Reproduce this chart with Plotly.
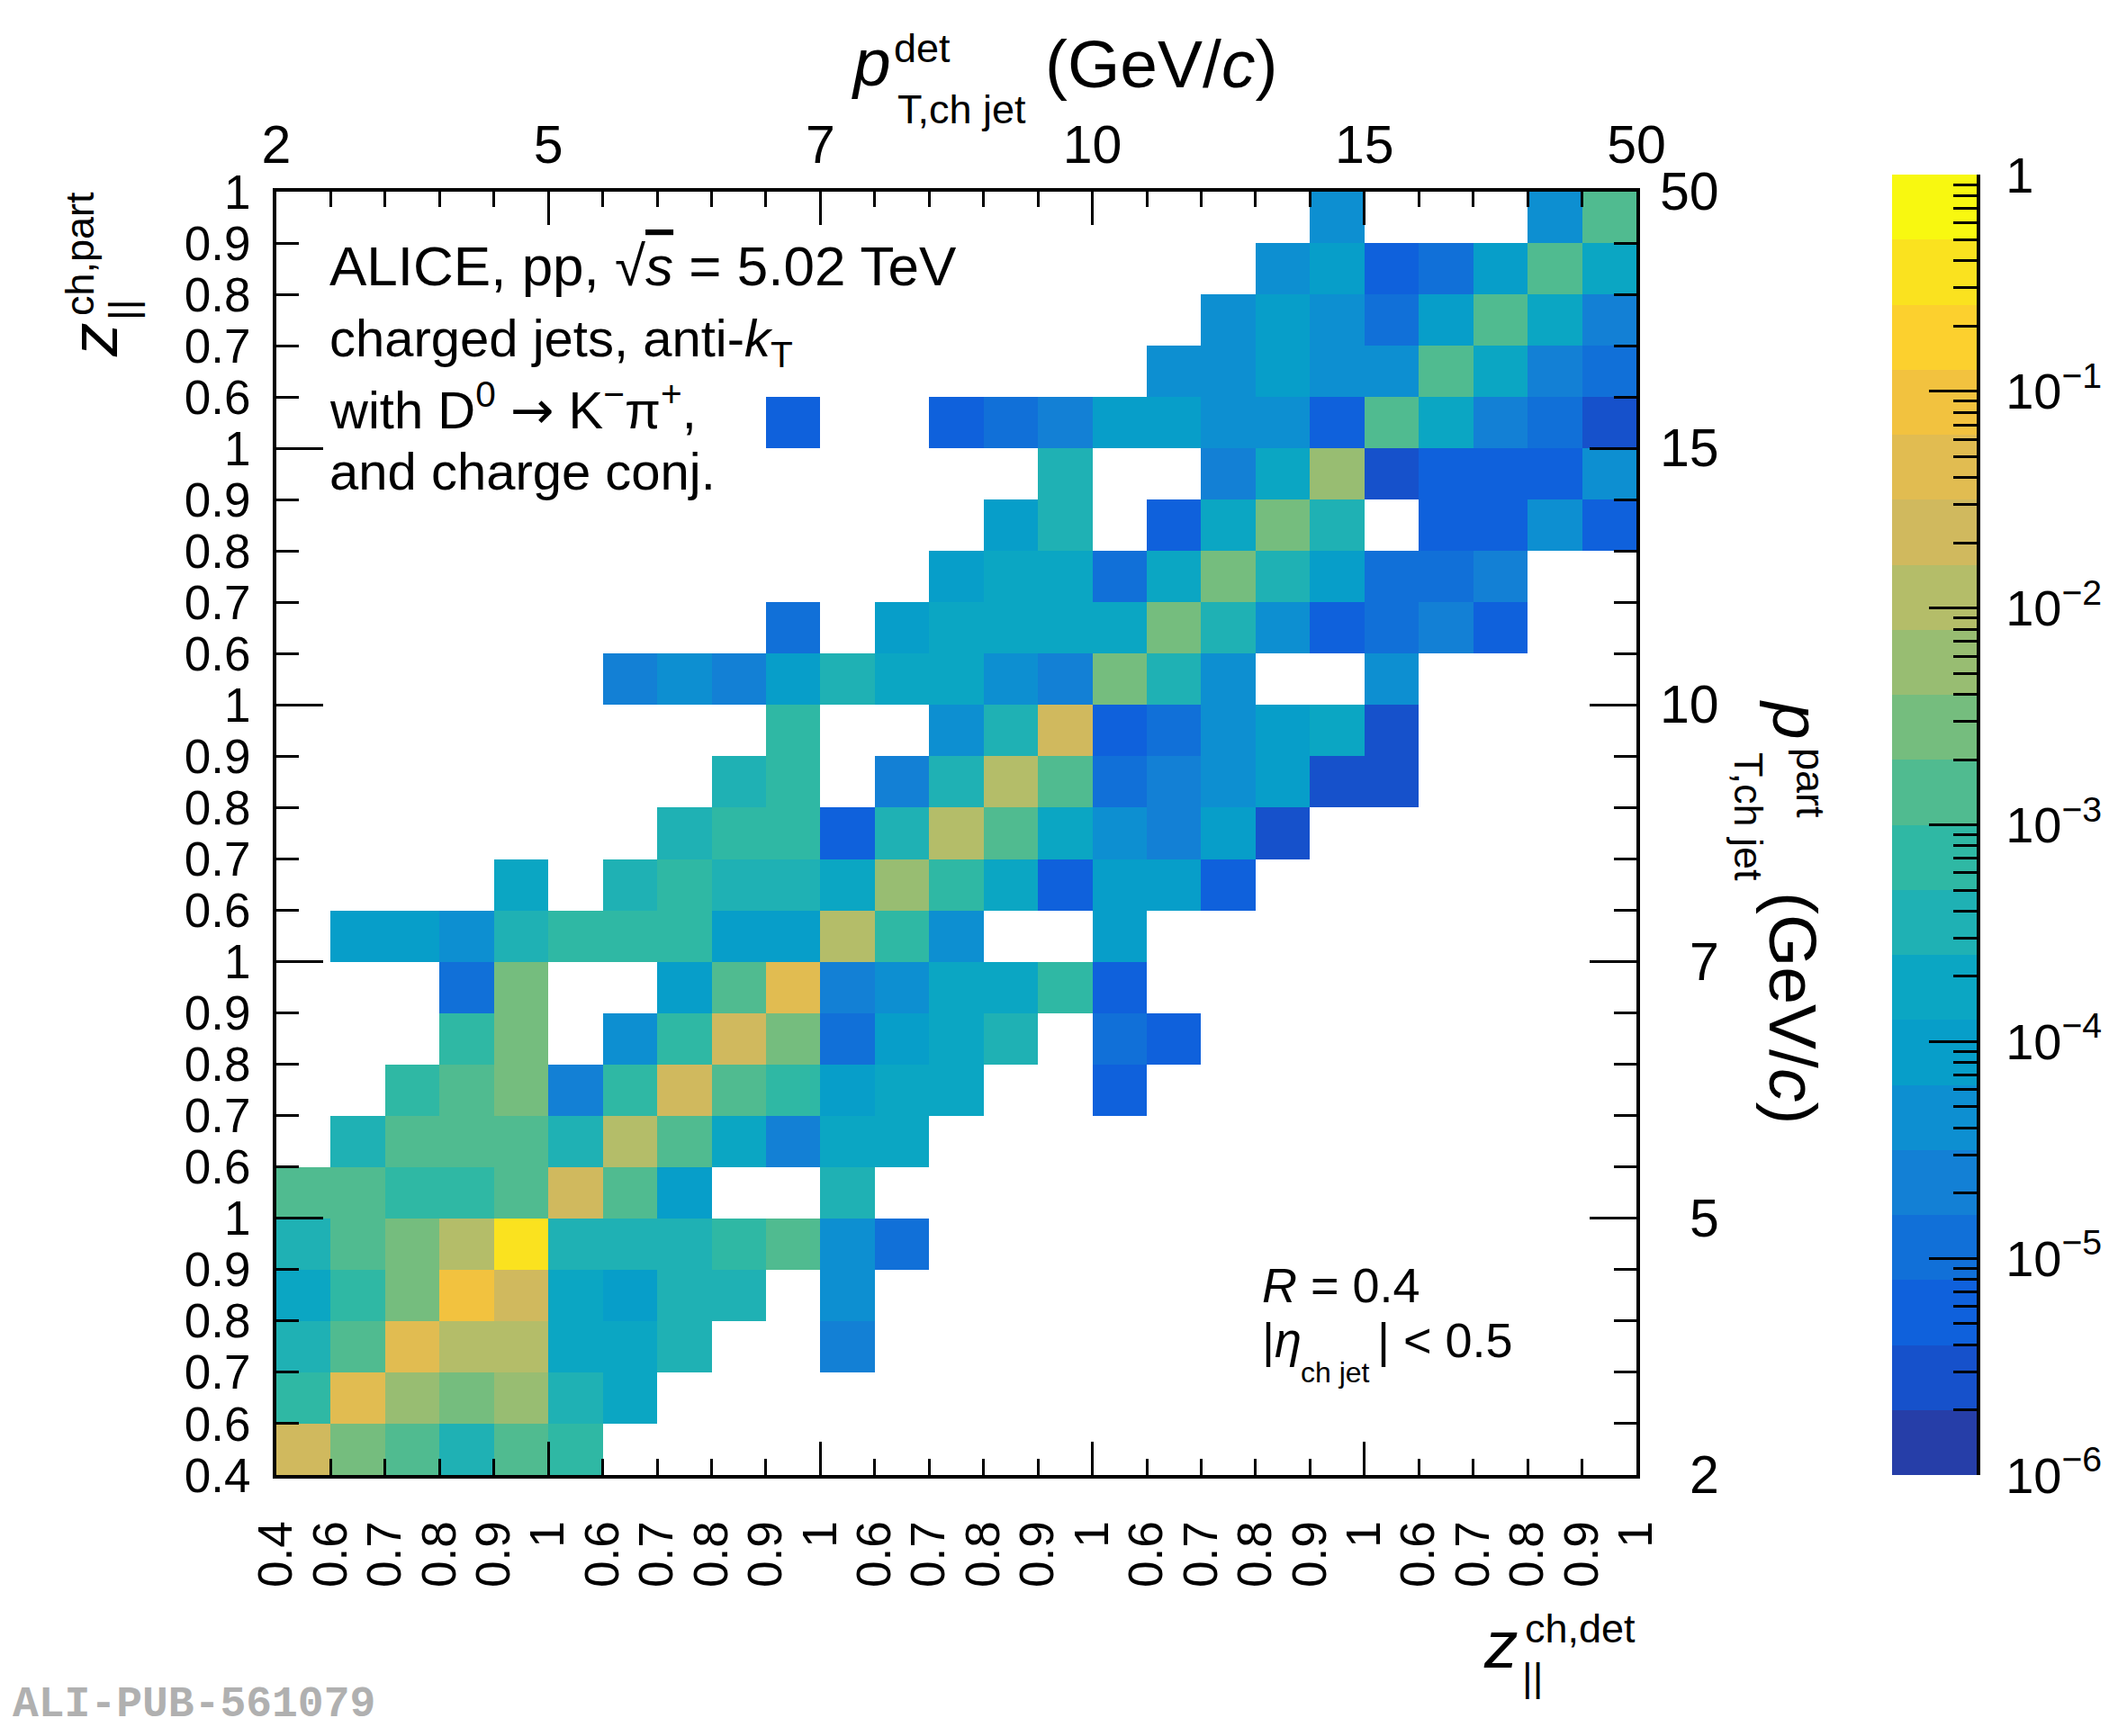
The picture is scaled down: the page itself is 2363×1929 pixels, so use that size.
import numpy as np
import plotly.graph_objects as go

# the plotly div sits inside the default 8px body margin of the page
OFF = 8
W, H = 2363 - 2 * OFF, 1929 - 2 * OFF
FONT = "Liberation Sans"


def px(x):
    # page pixel -> paper x
    return (x - OFF) / W


def py(y):
    # page pixel -> paper y
    return 1 - (y - OFF) / H


# bin labels
pt_labels = ["2", "5", "7", "10", "15", "50"]
z_labels = ["0.4", "0.6", "0.7", "0.8", "0.9", "1"]

# ROOT kBird palette, 20 contour levels from 1e-6 to 1
bird = ["#263ea8", "#1651cb", "#0f61dc", "#1170d8", "#1380d5",
        "#0d8fd1", "#079ec9", "#0ba6c3", "#1fb1b4", "#2fb8a4",
        "#50bb90", "#75bd7e", "#98bd72", "#b4bd69", "#d0b95e",
        "#e1bc51", "#f2c23f", "#fcd02e", "#fae21f", "#f8f810"]

# response matrix, rows from top (part pT 15-50, z 0.9-1) to bottom (part pT 2-5, z 0.4-0.6)
# columns: det pT bin x det z bin, left to right
_ = None
response = [
    [_, _, _, _, _, _, _, _, _, _, _, _, _, _, _, _, _, _, _, 4.5e-5, _, _, _, 4.5e-5, 1.4e-3],
    [_, _, _, _, _, _, _, _, _, _, _, _, _, _, _, _, _, _, 4.5e-5, 8.9e-5, 5.6e-6, 1.1e-5, 8.9e-5, 1.4e-3, 1.8e-4],
    [_, _, _, _, _, _, _, _, _, _, _, _, _, _, _, _, _, 4.5e-5, 8.9e-5, 4.5e-5, 1.1e-5, 8.9e-5, 1.4e-3, 1.8e-4, 2.2e-5],
    [_, _, _, _, _, _, _, _, _, _, _, _, _, _, _, _, 4.5e-5, 4.5e-5, 8.9e-5, 4.5e-5, 4.5e-5, 1.4e-3, 1.8e-4, 2.2e-5, 1.1e-5],
    [_, _, _, _, _, _, _, _, _, 5.6e-6, _, _, 5.6e-6, 1.1e-5, 2.2e-5, 8.9e-5, 8.9e-5, 4.5e-5, 4.5e-5, 5.6e-6, 1.4e-3, 1.8e-4, 2.2e-5, 1.1e-5, 2.8e-6],
    [_, _, _, _, _, _, _, _, _, _, _, _, _, _, 3.5e-4, _, _, 2.2e-5, 1.8e-4, 5.6e-3, 2.8e-6, 5.6e-6, 5.6e-6, 5.6e-6, 4.5e-5],
    [_, _, _, _, _, _, _, _, _, _, _, _, _, 8.9e-5, 3.5e-4, _, 5.6e-6, 1.8e-4, 2.8e-3, 3.5e-4, _, 5.6e-6, 5.6e-6, 4.5e-5, 5.6e-6],
    [_, _, _, _, _, _, _, _, _, _, _, _, 8.9e-5, 1.8e-4, 1.8e-4, 1.1e-5, 1.8e-4, 2.8e-3, 3.5e-4, 8.9e-5, 1.1e-5, 1.1e-5, 2.2e-5, _, _],
    [_, _, _, _, _, _, _, _, _, 1.1e-5, _, 8.9e-5, 1.8e-4, 1.8e-4, 1.8e-4, 1.8e-4, 2.8e-3, 3.5e-4, 4.5e-5, 5.6e-6, 1.1e-5, 2.2e-5, 5.6e-6, _, _],
    [_, _, _, _, _, _, 2.2e-5, 4.5e-5, 2.2e-5, 8.9e-5, 3.5e-4, 1.8e-4, 1.8e-4, 4.5e-5, 2.2e-5, 2.8e-3, 3.5e-4, 4.5e-5, _, _, 4.5e-5, _, _, _, _],
    [_, _, _, _, _, _, _, _, _, 7.1e-4, _, _, 4.5e-5, 3.5e-4, 2.2e-2, 5.6e-6, 1.1e-5, 4.5e-5, 8.9e-5, 1.8e-4, 2.8e-6, _, _, _, _],
    [_, _, _, _, _, _, _, _, 3.5e-4, 7.1e-4, _, 2.2e-5, 3.5e-4, 1.1e-2, 1.4e-3, 1.1e-5, 2.2e-5, 4.5e-5, 8.9e-5, 2.8e-6, 2.8e-6, _, _, _, _],
    [_, _, _, _, _, _, _, 3.5e-4, 7.1e-4, 7.1e-4, 5.6e-6, 3.5e-4, 1.1e-2, 1.4e-3, 1.8e-4, 4.5e-5, 2.2e-5, 8.9e-5, 2.8e-6, _, _, _, _, _, _],
    [_, _, _, _, 1.8e-4, _, 3.5e-4, 7.1e-4, 3.5e-4, 3.5e-4, 1.8e-4, 5.6e-3, 7.1e-4, 1.8e-4, 5.6e-6, 8.9e-5, 8.9e-5, 5.6e-6, _, _, _, _, _, _, _],
    [_, 8.9e-5, 8.9e-5, 4.5e-5, 3.5e-4, 7.1e-4, 7.1e-4, 7.1e-4, 8.9e-5, 8.9e-5, 1.1e-2, 7.1e-4, 4.5e-5, _, _, 8.9e-5, _, _, _, _, _, _, _, _, _],
    [_, _, _, 1.1e-5, 2.8e-3, _, _, 8.9e-5, 1.4e-3, 4.5e-2, 2.2e-5, 4.5e-5, 1.8e-4, 1.8e-4, 7.1e-4, 5.6e-6, _, _, _, _, _, _, _, _, _],
    [_, _, _, 7.1e-4, 2.8e-3, _, 4.5e-5, 7.1e-4, 2.2e-2, 2.8e-3, 1.1e-5, 8.9e-5, 1.8e-4, 3.5e-4, _, 1.1e-5, 5.6e-6, _, _, _, _, _, _, _, _],
    [_, _, 7.1e-4, 1.4e-3, 2.8e-3, 2.2e-5, 7.1e-4, 2.2e-2, 1.4e-3, 7.1e-4, 8.9e-5, 1.8e-4, 1.8e-4, _, _, 5.6e-6, _, _, _, _, _, _, _, _, _],
    [_, 3.5e-4, 1.4e-3, 1.4e-3, 1.4e-3, 3.5e-4, 1.1e-2, 1.4e-3, 1.8e-4, 2.2e-5, 1.8e-4, 1.8e-4, _, _, _, _, _, _, _, _, _, _, _, _, _],
    [1.4e-3, 1.4e-3, 7.1e-4, 7.1e-4, 1.4e-3, 2.2e-2, 1.4e-3, 8.9e-5, _, _, 3.5e-4, _, _, _, _, _, _, _, _, _, _, _, _, _, _],
    [3.5e-4, 1.4e-3, 2.8e-3, 1.1e-2, 0.35, 3.5e-4, 3.5e-4, 3.5e-4, 7.1e-4, 1.4e-3, 4.5e-5, 1.1e-5, _, _, _, _, _, _, _, _, _, _, _, _, _],
    [1.8e-4, 7.1e-4, 2.8e-3, 8.9e-2, 2.2e-2, 1.8e-4, 8.9e-5, 3.5e-4, 3.5e-4, _, 4.5e-5, _, _, _, _, _, _, _, _, _, _, _, _, _, _],
    [3.5e-4, 1.4e-3, 4.5e-2, 1.1e-2, 1.1e-2, 1.8e-4, 1.8e-4, 3.5e-4, _, _, 2.2e-5, _, _, _, _, _, _, _, _, _, _, _, _, _, _],
    [7.1e-4, 4.5e-2, 5.6e-3, 2.8e-3, 5.6e-3, 3.5e-4, 1.8e-4, _, _, _, _, _, _, _, _, _, _, _, _, _, _, _, _, _, _],
    [2.2e-2, 2.8e-3, 1.4e-3, 3.5e-4, 1.4e-3, 7.1e-4, _, _, _, _, _, _, _, _, _, _, _, _, _, _, _, _, _, _, _],
]

nb = len(response)
zmat = np.array([[np.nan if v is None else np.log10(v) for v in row] for row in response[::-1]])
cells = list(range(nb))

edges = [k - 0.5 for k in range(nb + 1)]
edge_text = [z_labels[0]] + z_labels[1:] * 5
pt_edges = edges[::5]
pt_inner = pt_edges[1:-1]

scale = []
for i, c in enumerate(bird):
    scale += [[i / len(bird), c], [(i + 1) / len(bird), c]]

fig = go.Figure()
fig.add_trace(go.Heatmap(x=cells, y=cells, z=zmat, colorscale=scale, zmin=-6, zmax=0,
                         showscale=False, hoverongaps=False))
# dummy traces so the overlay axes are drawn
fig.add_trace(go.Scatter(x=[None], y=[None], xaxis="x2", yaxis="y2", showlegend=False))
fig.add_trace(go.Scatter(x=[None], y=[None], xaxis="x3", yaxis="y3", showlegend=False))

# hand-made colour bar with log minor ticks
levels = [-6 + 0.3 * (i + 0.5) for i in range(len(bird))]
fig.add_trace(go.Heatmap(x=[0], y=levels, z=[[v] for v in levels], colorscale=scale,
                         zmin=-6, zmax=0, showscale=False, xaxis="x4", yaxis="y4"))

rng = [-0.5, nb - 0.5]
x_dom = [px(307), px(1818)]
y_dom = [py(1639), py(213)]
line = dict(showline=True, linecolor="black", linewidth=4, showgrid=False, zeroline=False,
            tickcolor="black", tickwidth=3, tickmode="array", range=rng, automargin=False)

fig.update_layout(
    template="none",
    width=W, height=H, autosize=False,
    margin=dict(l=0, r=0, t=0, b=0, pad=0),
    paper_bgcolor="white", plot_bgcolor="white",
    font=dict(family=FONT, color="black"),
    showlegend=False,
    xaxis=dict(line, domain=x_dom, anchor="y", tickvals=edges, ticktext=edge_text,
               ticks="inside", ticklen=18, tickangle=-90, ticklabelstandoff=26,
               tickfont=dict(size=53)),
    xaxis2=dict(line, overlaying="x", side="top", anchor="y", tickvals=pt_edges,
                ticktext=pt_labels, ticks="inside", ticklen=37, ticklabelstandoff=4,
                tickfont=dict(size=59),
                minor=dict(tickmode="array", tickvals=edges, ticks="inside", ticklen=17,
                           tickwidth=3, tickcolor="black")),
    xaxis3=dict(line, overlaying="x", side="bottom", anchor="y", tickvals=pt_inner,
                ticks="inside", ticklen=37, showticklabels=False, showline=False),
    yaxis=dict(line, domain=y_dom, anchor="x", tickvals=edges, ticktext=edge_text,
               ticks="inside", ticklen=25, ticklabelstandoff=14, tickfont=dict(size=53)),
    yaxis2=dict(line, overlaying="y", side="right", anchor="x", tickvals=pt_edges,
                ticks="inside", ticklen=52, showticklabels=False,
                minor=dict(tickmode="array", tickvals=edges, ticks="inside", ticklen=25,
                           tickwidth=3, tickcolor="black")),
    yaxis3=dict(line, overlaying="y", side="left", anchor="x", tickvals=pt_inner,
                ticks="inside", ticklen=52, showticklabels=False, showline=False),
    xaxis4=dict(domain=[px(2102), px(2196)], anchor="y4", range=[-0.5, 0.5], visible=False,
                automargin=False),
    yaxis4=dict(domain=[py(1639), py(194)], anchor="x4", side="right", range=[-6, 0],
                automargin=False,
                showline=True, linecolor="black", linewidth=4, showgrid=False, zeroline=False,
                tickmode="array", tickvals=[-6, -5, -4, -3, -2, -1, 0],
                ticktext=["10<sup>−6</sup>", "10<sup>−5</sup>", "10<sup>−4</sup>", "10<sup>−3</sup>",
                          "10<sup>−2</sup>", "10<sup>−1</sup>", "1"],
                ticks="inside", ticklen=53, tickwidth=3, tickcolor="black",
                ticklabelstandoff=17, tickfont=dict(size=56),
                minor=dict(tickmode="array",
                           tickvals=[n + np.log10(k) for n in range(-6, 0) for k in range(2, 10)],
                           ticks="inside", ticklen=26, tickwidth=3, tickcolor="black")),
)


def txt(text, x, y, size, angle=0, xanchor="center", **kw):
    fig.add_annotation(text=text, x=px(x), y=py(y), xref="paper", yref="paper",
                       showarrow=False, textangle=angle, xanchor=xanchor, yanchor="middle",
                       font=dict(family=FONT, size=size, color=kw.pop("color", "black")), **kw)


# right-aligned pT labels on the right axis
for k, lab in zip(pt_edges, pt_labels):
    fig.add_annotation(text=lab, x=px(1912), y=k, xref="paper", yref="y", showarrow=False,
                       xanchor="right", yanchor="middle", font=dict(family=FONT, size=59))

# top axis title
txt("<i>p</i>", 968, 69, 75)
txt("det", 1024, 54, 45)
txt("T,ch jet", 1068, 121, 45)
txt("(GeV/<i>c</i>)", 1290, 71, 75)

# right axis title
txt("<i>p</i>", 1996, 800, 75, angle=90)
txt("part", 2011, 870, 45, angle=90)
txt("T,ch jet", 1943, 907, 45, angle=90)
txt("(GeV/<i>c</i>)", 1992, 1120, 75, angle=90)

# left axis title
txt("<i>z</i>", 104, 378, 75, angle=-90)
txt("||", 136, 345, 45, angle=-90)
txt("ch,part", 89, 282, 45, angle=-90)

# bottom axis title
txt("<i>z</i>", 1667, 1827, 75)
txt("ch,det", 1755, 1809, 45)
txt("||", 1702, 1863, 45)

# labels inside the frame
arrow = "<span style='font-family:DejaVu Sans'>→</span>"
sqrt_s = "√<span style='text-decoration:overline'><i>s</i></span>"
txt(f"ALICE, pp, {sqrt_s} = 5.02 TeV", 364, 296, 62, xanchor="left")
txt("charged jets, anti-<i>k</i><sub>T</sub>", 364, 380, 58, xanchor="left")
txt(f"with D<sup>0</sup> {arrow} K<sup>−</sup>π<sup>+</sup>,", 364, 452, 58, xanchor="left")
txt("and charge conj.", 364, 523, 58, xanchor="left")
txt("<i>R</i> = 0.4", 1400, 1428, 54, xanchor="left")
txt("|<i>η</i>", 1400, 1489, 54, xanchor="left")
txt("ch jet", 1443, 1525, 32, xanchor="left")
txt("| &lt; 0.5", 1528, 1489, 54, xanchor="left")

fig.add_annotation(text="<b>ALI-PUB-561079</b>", x=px(12), y=py(1894), xref="paper", yref="paper",
                   showarrow=False, xanchor="left", yanchor="middle",
                   font=dict(family="Liberation Mono", size=48, color="#b0b0b0"))

fig.write_html("out.html")
